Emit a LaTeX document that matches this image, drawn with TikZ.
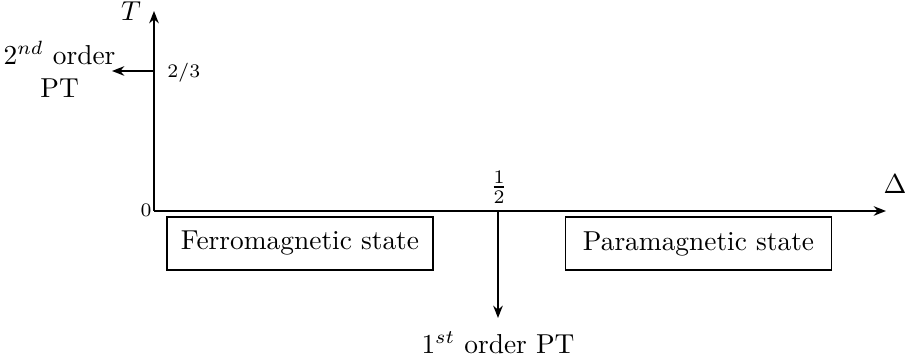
\documentclass[tikz,border=0pt]{standalone}
\usetikzlibrary{arrows.meta}
\begin{document}
\begin{tikzpicture}[x=0.365pt,y=-0.365pt,
  axis/.style={line width=0.6pt,-{Stealth[length=4.5pt,width=3.5pt]}},
  statebox/.style={draw,line width=0.6pt,minimum width=97pt,minimum height=19.4pt,inner sep=0pt},
  small/.style={font=\scriptsize,inner sep=1pt}]
\useasboundingbox (0,0) rectangle (905,361);
\coordinate (O) at (154,211);
\coordinate (Ttop) at (154,11);
\coordinate (Dend) at (886,211);
\coordinate (T23) at (154,71);
\coordinate (L23) at (112,71);
\coordinate (Dhalf) at (498,211);
\coordinate (Dlow) at (498,318);
\draw[axis] (O) -- (Ttop);
\draw[axis] (O) -- (Dend);
\draw[axis] (T23) -- (L23);
\draw[axis] (Dhalf) -- (Dlow);
\node (Tlab) at (131,11) {$T$};
\node (Dlab) at (895,184) {$\Delta$};
\node[small] (zero) at (146,210) {$0$};
\node[small,anchor=west] (twothirds) at (164,73) {$2/3$};
\node[inner sep=1pt] (half) at (499,187) {$\frac{1}{2}$};
\node[align=center,anchor=east,inner sep=0pt] (second) at (116,69) {$2^{nd}$ order\\PT};
\node (first) at (498,343) {$1^{st}$ order PT};
\node[statebox] (ferro) at (300,243.5) {Ferromagnetic state};
\node[statebox] (para) at (698.5,243.5) {Paramagnetic state};
\end{tikzpicture}
\end{document}
